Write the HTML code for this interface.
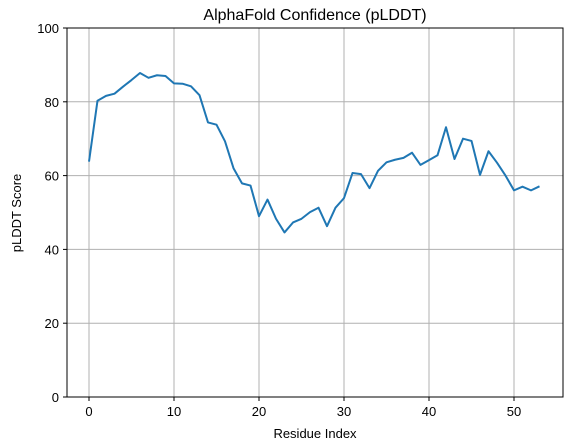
<!DOCTYPE html>
<html><head><meta charset="utf-8"><style>
body{margin:0;background:#fff;}
svg{display:block;font-family:"Liberation Sans","DejaVu Sans",sans-serif;}
</style></head><body>
<svg id="chart" width="568" height="448">
<text x="315" y="20" text-anchor="middle" font-size="16">AlphaFold Confidence (pLDDT)</text>
<text x="315" y="438" text-anchor="middle" font-size="13">Residue Index</text>
<text x="21" y="213" text-anchor="middle" font-size="13" transform="rotate(-90 21 213)">pLDDT Score</text>
<g id="grid"></g><g id="ticks"></g>
<polyline id="line" fill="none" stroke="#1f77b4" stroke-width="2" stroke-linejoin="round"/>
<rect x="67" y="28" width="496" height="369" fill="none" stroke="#000" stroke-width="1"/>
</svg>
<script>
const scores=[63.8,80.3,81.6,82.2,84.1,85.9,87.8,86.5,87.2,87.0,85.0,84.9,84.2,81.8,74.4,73.8,69.3,62.0,57.9,57.3,49.0,53.5,48.3,44.6,47.3,48.3,50.1,51.3,46.3,51.3,53.9,60.7,60.4,56.6,61.3,63.6,64.3,64.8,66.2,62.9,64.2,65.5,73.1,64.5,70.0,69.4,60.2,66.6,63.5,60.0,56.0,57.0,56.0,57.1];
const xTicks=[0,10,20,30,40,50];
const yTicks=[0,20,40,60,80,100];
const X=v=>89+v*8.5;
const Y=v=>397-v*3.69;
const NS="http://www.w3.org/2000/svg";
const grid=document.getElementById('grid'),ticks=document.getElementById('ticks');
function mk(t,a,p){const e=document.createElementNS(NS,t);for(const k in a)e.setAttribute(k,a[k]);p.appendChild(e);return e;}
xTicks.forEach(v=>{
 const g=mk('line',{x1:X(v),x2:X(v),y1:28,y2:397,stroke:'#b0b0b0','stroke-width':1},grid);
 
 
 const t=mk('line',{x1:X(v),x2:X(v),y1:397,y2:401,stroke:'#000'},ticks);
 
 
 const l=mk('text',{x:X(v),y:416,'text-anchor':'middle','font-size':13},ticks);
 l.textContent=v;
 
 
});
yTicks.forEach(v=>{
 const g=mk('line',{x1:67,x2:563,y1:Y(v),y2:Y(v),stroke:'#b0b0b0','stroke-width':1},grid);
 
 
 const t=mk('line',{x1:63,x2:67,y1:Y(v),y2:Y(v),stroke:'#000'},ticks);
 
 
 const l=mk('text',{x:59,y:Y(v)+5,'text-anchor':'end','font-size':13},ticks);
 l.textContent=v;
 
 
});
document.getElementById('line').setAttribute('points',scores.map((s,i)=>X(i)+','+Y(s)).join(' '));
</script>
</body></html>
